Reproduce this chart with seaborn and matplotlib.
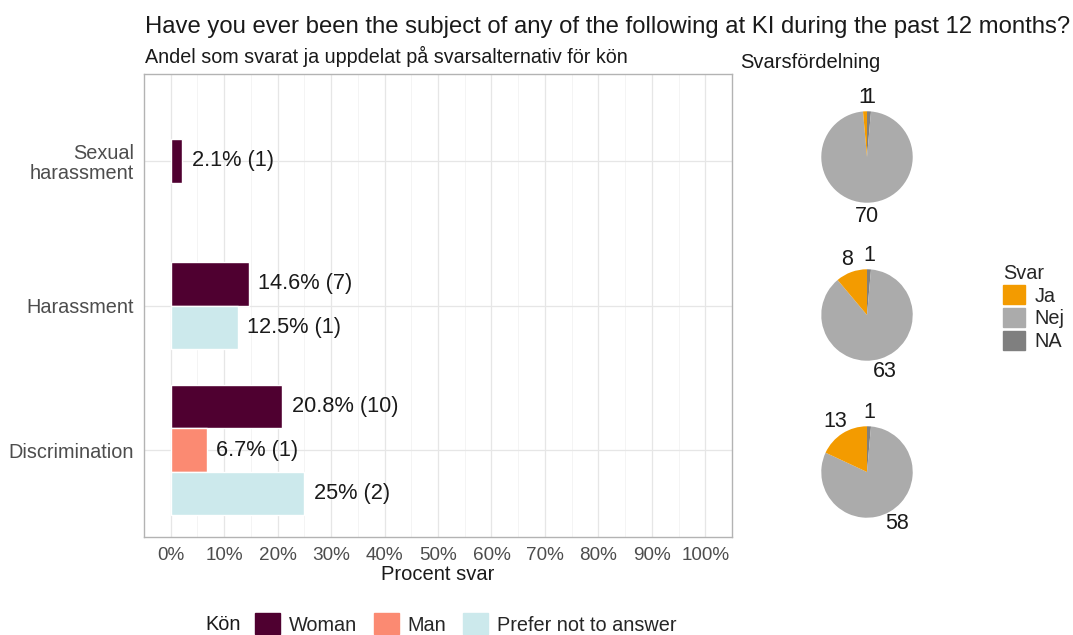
import matplotlib.pyplot as plt
import matplotlib.patches as mpatches
import seaborn as sns
import numpy as np

sns.set_theme(style="whitegrid")
plt.rcParams['font.family'] = ['Liberation Sans', 'DejaVu Sans']

# bar data (share answering yes, by gender)
categories = ['Sexual\nharassment', 'Harassment', 'Discrimination']
genders = ['Woman', 'Man', 'Prefer not to answer']
gender_colors = ['#4F0030', '#FB8A72', '#CCE9EC']
pct = {
    'Woman': [2.1, 14.6, 20.8],
    'Man': [None, None, 6.7],
    'Prefer not to answer': [None, 12.5, 25],
}
counts = {
    'Woman': [1, 7, 10],
    'Man': [None, None, 1],
    'Prefer not to answer': [None, 1, 2],
}

# pie data (answer distribution per question)
answers = ['Ja', 'Nej', 'NA']
answer_colors = ['#F39B00', '#ABABAB', '#7F7F7F']
ja = [1, 8, 13]
nej = [70, 63, 58]
na = [1, 1, 1]

W, H = 1073, 635
fig = plt.figure(figsize=(W / 100, H / 100), dpi=100)

def px_axes(x0, y0, x1, y1):
    return fig.add_axes([x0 / W, 1 - y1 / H, (x1 - x0) / W, (y1 - y0) / H])

ax = px_axes(144, 74, 732, 537)
bw = 0.3
for ci, cat in enumerate(categories):
    present = [g for g in genders if pct[g][ci] is not None]
    n = len(present)
    for j, g in enumerate(present):
        y = ci + (j - (n - 1) / 2) * bw
        v = pct[g][ci]
        ax.barh(y, v, height=bw, color=gender_colors[genders.index(g)], zorder=3)
        ax.text(v + 1.8, y, f"{v:g}% ({counts[g][ci]})", va='center', ha='left',
                fontsize=15.7, color='#1A1A1A', zorder=4)

ax.set_xlim(-5, 105)
ax.set_ylim(2.6, -0.6)
ax.set_yticks(range(len(categories)))
ax.set_yticklabels(categories, fontsize=14.3, color='#4D4D4D', linespacing=1.05)
ax.set_xticks(np.arange(0, 101, 10))
ax.set_xticklabels([f"{t}%" for t in range(0, 101, 10)], fontsize=13.6, color='#4D4D4D')
ax.set_xticks(np.arange(5, 100, 10), minor=True)
ax.grid(True, which='major', color='#E6E6E6', linewidth=0.9, zorder=0)
ax.grid(True, which='minor', axis='x', color='#F2F2F2', linewidth=0.6, zorder=0)
ax.tick_params(axis='both', which='major', length=4, width=0.8, color='#B3B3B3', pad=3)
ax.tick_params(axis='x', which='minor', length=0)
for s in ax.spines.values():
    s.set_color('#B3B3B3')
    s.set_linewidth(1.0)
ax.set_facecolor('white')
ax.set_xlabel('Procent svar', fontsize=14.5, color='#1A1A1A', labelpad=1)
ax.set_ylabel('')

fig.text(145 / W, 1 - 27 / H, 'Have you ever been the subject of any of the following at KI during the past 12 months?',
         fontsize=17.2, color='#1A1A1A', va='center', ha='left')
fig.text(145 / W, 1 - 56 / H, 'Andel som svarat ja uppdelat på svarsalternativ för kön',
         fontsize=14.2, color='#1A1A1A', va='center', ha='left')
fig.text(740 / W, 1 - 63 / H, 'Svarsfördelning', fontsize=14.5, color='#1A1A1A', va='center', ha='left')

# pies
centers = [157, 315, 472]
cx, half = 867, 80
for k, cy in enumerate(centers):
    pax = px_axes(cx - half, cy - half, cx + half, cy + half)
    vals = [na[k], nej[k], ja[k]]
    cols = [answer_colors[2], answer_colors[1], answer_colors[0]]
    pax.pie(vals, colors=cols, startangle=90, counterclock=False, radius=1,
            wedgeprops=dict(linewidth=0))
    total = sum(vals)
    cum = 0
    for v in vals:
        mid = (cum + v / 2) / total * 2 * np.pi
        cum += v
        r = 1.3
        pax.text(r * np.sin(mid), r * np.cos(mid), str(v), ha='center', va='center',
                 fontsize=15.5, color='#1A1A1A')
    pax.set_xlim(-1.75, 1.75)
    pax.set_ylim(-1.75, 1.75)
    pax.set_aspect('equal')
    pax.axis('off')

# legends
svar_handles = [mpatches.Patch(color=c, label=a) for a, c in zip(answers, answer_colors)]
fig.legend(handles=svar_handles, title='Svar', loc='upper left', bbox_to_anchor=(985 / W, 1 - 246 / H),
           frameon=False, fontsize=14.3, title_fontsize=14.3, handlelength=1.1, handleheight=1.1,
           handletextpad=0.5, labelspacing=0.12, alignment='left')

kon_handles = [mpatches.Patch(color=c, label=g) for g, c in zip(genders, gender_colors)]
fig.text(205 / W, 1 - 624 / H, 'Kön', fontsize=14.3, color='#1A1A1A', va='center', ha='left')
fig.legend(handles=kon_handles, loc='center left', bbox_to_anchor=(237 / W, 1 - 624 / H),
           ncol=3, frameon=False, fontsize=14.3, handlelength=1.25, handleheight=1.25,
           handletextpad=0.45, columnspacing=0.85)

fig.savefig('out.png', dpi=100, facecolor='white')
